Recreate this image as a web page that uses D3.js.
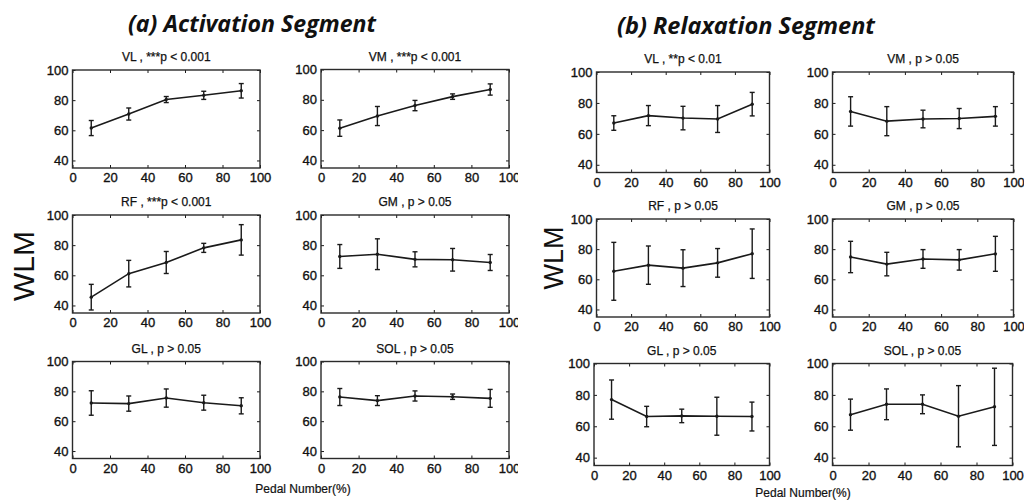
<!DOCTYPE html>
<html><head><meta charset="utf-8">
<script src="https://cdn.jsdelivr.net/npm/d3@7"></script>
<style>body{margin:0;background:#fff;}svg{display:block;}</style>
</head><body>
<svg id="c" width="1024" height="500"></svg>
<script>
// ---------- data ----------
const pedal = [10, 30, 50, 70, 90];
const xTicks = [0, 20, 40, 60, 80, 100];
const yTicks = [40, 60, 80, 100];

const actTitles = ["VL , ***p < 0.001", "VM , ***p < 0.001", "RF , ***p < 0.001", "GM , p > 0.05", "GL , p > 0.05", "SOL , p > 0.05"];
const relTitles = ["VL , **p < 0.01", "VM , p > 0.05", "RF , p > 0.05", "GM , p > 0.05", "GL , p > 0.05", "SOL , p > 0.05"];

// Activation segment: means and error half-widths
const actVL = [61.5, 70.8, 80.4, 83.2, 86.2],  actVLErr = [5.0, 4.0, 2.0, 2.7, 4.8];
const actVM = [61.3, 69.3, 76.2, 82.1, 86.8], actVMErr = [5.4, 6.3, 3.4, 1.8, 3.7];
const actRF = [45.5, 61.1, 68.5, 78.2, 83.5], actRFErr = [8.5, 8.8, 7.3, 3.0, 10.1];
const actGM = [72.5, 74.0, 70.6, 70.3, 68.5], actGMErr = [7.9, 10.2, 5.0, 7.5, 5.3];
const actGL = [72.2, 71.8, 75.5, 72.4, 70.3], actGLErr = [8.2, 5.1, 6.1, 5.0, 5.4];
const actSOL = [76.2, 73.8, 76.9, 76.4, 75.3], actSOLErr = [5.7, 3.3, 3.4, 1.8, 6.0];

// Relaxation segment
const relVL = [67.0, 71.8, 70.2, 69.6, 79.2], relVLErr = [4.7, 6.5, 7.6, 8.7, 7.6];
const relVM = [74.5, 68.2, 69.6, 69.9, 71.3], relVMErr = [9.5, 9.4, 5.7, 6.5, 6.3];
const relRF = [65.3, 69.4, 67.4, 70.9, 77.0], relRFErr = [19.2, 12.7, 12.2, 9.5, 16.4];
const relGM = [74.8, 70.1, 73.5, 72.9, 76.9], relGMErr = [10.4, 7.8, 6.2, 6.8, 11.6];
const relGL = [77.0, 66.2, 66.6, 66.4, 66.2], relGLErr = [12.5, 6.5, 4.3, 12.1, 9.2];
const relSOL = [67.4, 74.0, 74.0, 66.4, 72.4], relSOLErr = [9.9, 9.8, 6.0, 19.5, 24.6];

// ---------- layout ----------
const panels = [
  // activation
  {t: actTitles[0], m: actVL, e: actVLErr, x0: 72.5, x1: 260, y0: 70, y1: 168, clip: 0},
  {t: actTitles[1], m: actVM, e: actVMErr, x0: 321, x1: 509, y0: 69.5, y1: 168, clip: 1},
  {t: actTitles[2], m: actRF, e: actRFErr, x0: 72.5, x1: 260, y0: 215, y1: 313, clip: 0},
  {t: actTitles[3], m: actGM, e: actGMErr, x0: 321, x1: 509, y0: 215, y1: 313, clip: 1},
  {t: actTitles[4], m: actGL, e: actGLErr, x0: 72.5, x1: 260, y0: 361.5, y1: 458.5, clip: 0},
  {t: actTitles[5], m: actSOL, e: actSOLErr, x0: 321, x1: 509, y0: 361.5, y1: 458.5, clip: 1},
  // relaxation
  {t: relTitles[0], m: relVL, e: relVLErr, x0: 596.5, x1: 769.5, y0: 72, y1: 172.5, clip: 0},
  {t: relTitles[1], m: relVM, e: relVMErr, x0: 832.5, x1: 1013.5, y0: 72, y1: 172.5, clip: 0},
  {t: relTitles[2], m: relRF, e: relRFErr, x0: 596.5, x1: 769.5, y0: 219, y1: 317, clip: 0},
  {t: relTitles[3], m: relGM, e: relGMErr, x0: 832.5, x1: 1013.5, y0: 219, y1: 317, clip: 0},
  {t: relTitles[4], m: relGL, e: relGLErr, x0: 594, x1: 769.5, y0: 363.5, y1: 465.5, clip: 0},
  {t: relTitles[5], m: relSOL, e: relSOLErr, x0: 832.5, x1: 1012.5, y0: 363.5, y1: 465.5, clip: 0}
];

const svg = d3.select("#c");
const ink = "#1a1a1a";
const font = "'Liberation Sans', Arial, sans-serif";

svg.append("defs").append("clipPath").attr("id", "clipA")
  .append("rect").attr("x", 0).attr("y", 0).attr("width", 518).attr("height", 500);

// headings
svg.append("text").attr("x", 252).attr("y", 32).attr("text-anchor", "middle")
  .attr("font-family", "'Open Sans', sans-serif").attr("font-weight", 700).attr("font-style", "italic")
  .attr("font-size", 23).attr("fill", "#111")
  .attr("textLength", 248).attr("lengthAdjust", "spacingAndGlyphs")
  .text("(a) Activation Segment");
svg.append("text").attr("x", 746).attr("y", 34).attr("text-anchor", "middle")
  .attr("font-family", "'Open Sans', sans-serif").attr("font-weight", 700).attr("font-style", "italic")
  .attr("font-size", 23).attr("fill", "#111")
  .attr("textLength", 258).attr("lengthAdjust", "spacingAndGlyphs")
  .text("(b) Relaxation Segment");

// WLM labels
svg.append("text").attr("transform", "translate(34,266) rotate(-90)").attr("text-anchor", "middle")
  .attr("font-family", font).attr("font-size", 30).attr("fill", "#111").text("WLM");
svg.append("text").attr("transform", "translate(563,258) rotate(-90)").attr("text-anchor", "middle")
  .attr("font-family", font).attr("font-size", 27).attr("fill", "#111").text("WLM");

// x labels
svg.append("text").attr("x", 303).attr("y", 493).attr("text-anchor", "middle")
  .attr("font-family", font).attr("font-size", 12).attr("fill", "#111")
  .attr("stroke", "#111").attr("stroke-width", 0.2).text("Pedal Number(%)");
svg.append("text").attr("x", 803).attr("y", 497).attr("text-anchor", "middle")
  .attr("font-family", font).attr("font-size", 12).attr("fill", "#111")
  .attr("stroke", "#111").attr("stroke-width", 0.2).text("Pedal Number(%)");

panels.forEach(p => {
  const x = d3.scaleLinear().domain([0, 100]).range([p.x0, p.x1]);
  const y = d3.scaleLinear().domain([35, 100]).range([p.y1, p.y0]);
  const g = svg.append("g");
  if (p.clip) g.attr("clip-path", "url(#clipA)");

  // axes with inward ticks
  const ax = (gen, tx, ty) => {
    const a = g.append("g").attr("transform", `translate(${tx},${ty})`).call(gen);
    a.select(".domain").remove();
    a.selectAll("line").attr("stroke", ink).attr("stroke-width", 1);
    a.selectAll("text").attr("font-family", font).attr("font-size", 13).attr("fill", "#111")
      .attr("stroke", "#111").attr("stroke-width", 0.35);
    return a;
  };
  ax(d3.axisBottom(x).tickValues(xTicks).tickSize(-3).tickPadding(5).tickFormat(d3.format("d")), 0, p.y1);
  ax(d3.axisTop(x).tickValues(xTicks).tickSize(-3).tickFormat(""), 0, p.y0);
  ax(d3.axisLeft(y).tickValues(yTicks).tickSize(-3).tickPadding(4).tickFormat(d3.format("d")), p.x0, 0);
  ax(d3.axisRight(y).tickValues(yTicks).tickSize(-3).tickFormat(""), p.x1, 0);

  g.append("rect").attr("x", p.x0).attr("y", p.y0).attr("width", p.x1 - p.x0).attr("height", p.y1 - p.y0)
    .attr("fill", "none").attr("stroke", "#2a2a2a").attr("stroke-width", 1.4);

  // title
  g.append("text").attr("x", (p.x0 + p.x1) / 2).attr("y", p.y0 - 9).attr("text-anchor", "middle")
    .attr("font-family", font).attr("font-size", 12).attr("fill", "#111")
    .attr("stroke", "#111").attr("stroke-width", 0.25).text(p.t);

  const pts = pedal.map((v, i) => ({x: v, m: p.m[i], e: p.e[i]}));
  // error bars
  const eb = g.append("g").attr("stroke", ink).attr("stroke-width", 1.4);
  eb.selectAll(".v").data(pts).join("line")
    .attr("x1", d => x(d.x)).attr("x2", d => x(d.x))
    .attr("y1", d => y(d.m - d.e)).attr("y2", d => y(d.m + d.e));
  eb.selectAll(".t").data(pts).join("line")
    .attr("x1", d => x(d.x) - 2.5).attr("x2", d => x(d.x) + 2.5)
    .attr("y1", d => y(d.m + d.e)).attr("y2", d => y(d.m + d.e));
  eb.selectAll(".b").data(pts).join("line")
    .attr("x1", d => x(d.x) - 2.5).attr("x2", d => x(d.x) + 2.5)
    .attr("y1", d => y(d.m - d.e)).attr("y2", d => y(d.m - d.e));

  // mean line
  g.append("path").datum(pts)
    .attr("d", d3.line().x(d => x(d.x)).y(d => y(d.m)))
    .attr("fill", "none").attr("stroke", ink).attr("stroke-width", 1.6);
  g.selectAll(".pt").data(pts).join("circle")
    .attr("cx", d => x(d.x)).attr("cy", d => y(d.m)).attr("r", 1.7).attr("fill", ink);
});
</script>
</body></html>
